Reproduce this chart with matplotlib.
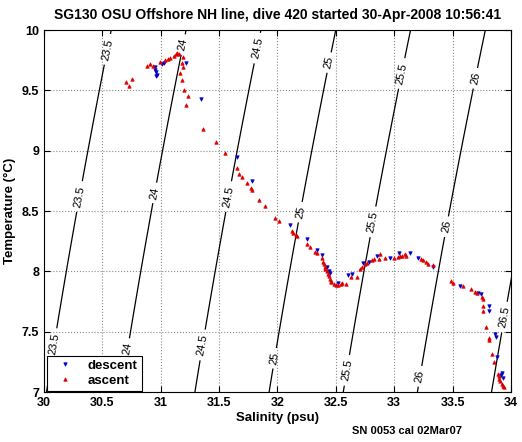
import numpy as np
import matplotlib
matplotlib.use('Agg')
import matplotlib.pyplot as plt
from matplotlib.ticker import FuncFormatter

plt.rcParams['font.family'] = ['Liberation Sans', 'DejaVu Sans']

# Descent samples (salinity, temperature)
desc_s = [30.95, 30.955, 30.96, 30.965, 30.96, 31.01, 31.03, 31.22, 31.345,
          31.65, 31.78, 32.11, 32.255, 32.335, 32.385, 32.42, 32.44, 32.45,
          32.52, 32.60, 32.64, 32.735, 32.785, 32.85, 32.96, 33.04, 33.135,
          33.205, 33.335, 33.56, 33.72, 33.74, 33.81, 33.81, 33.86, 33.87,
          33.88, 33.92, 33.93, 33.915]
desc_t = [9.69, 9.67, 9.65, 9.63, 9.62, 9.72, 9.73, 9.73, 9.43,
          8.945, 8.75, 8.384, 8.266, 8.18, 8.135, 8.04, 8.00, 7.985,
          7.905, 7.97, 7.98, 8.07, 8.08, 8.13, 8.11, 8.15, 8.15,
          8.11, 8.04, 7.88, 7.82, 7.81, 7.71, 7.675, 7.48, 7.455,
          7.29, 7.16, 7.12, 7.14]

# Ascent samples
asc_s = [30.70, 30.73, 30.75, 30.885, 30.91, 30.93, 30.99, 31.04, 31.06, 31.08,
         31.11, 31.13, 31.14, 31.16, 31.19, 31.18, 31.19, 31.165, 31.185, 31.20,
         31.23, 31.22, 31.36, 31.47, 31.55, 31.655, 31.67, 31.70, 31.74, 31.77,
         31.785, 31.845, 31.89, 31.98, 32.015, 32.12, 32.135, 32.16, 32.17, 32.255,
         32.28, 32.32, 32.34, 32.38, 32.39, 32.40, 32.405, 32.41, 32.42, 32.43,
         32.44, 32.45, 32.455, 32.46, 32.48, 32.50, 32.52, 32.54, 32.55, 32.59,
         32.63, 32.68, 32.71, 32.72, 32.75, 32.77, 32.81, 32.83, 32.87, 32.88,
         32.92, 33.00, 33.03, 33.05, 33.07, 33.09, 33.10, 33.23, 33.25, 33.27,
         33.29, 33.33, 33.49, 33.505, 33.59, 33.66, 33.69, 33.71, 33.75, 33.76,
         33.76, 33.76, 33.79, 33.81, 33.81, 33.835, 33.855, 33.89, 33.895, 33.90,
         33.91, 33.92, 33.93, 33.94]
asc_t = [9.567, 9.54, 9.59, 9.70, 9.716, 9.70, 9.737, 9.75, 9.76, 9.77,
         9.785, 9.80, 9.807, 9.80, 9.774, 9.73, 9.69, 9.64, 9.586, 9.50,
         9.45, 9.38, 9.18, 9.075, 8.98, 8.854, 8.81, 8.78, 8.73, 8.69,
         8.67, 8.59, 8.54, 8.445, 8.417, 8.334, 8.315, 8.30, 8.29, 8.23,
         8.205, 8.16, 8.15, 8.11, 8.08, 8.06, 8.04, 8.02, 8.00, 7.98,
         7.96, 7.94, 7.92, 7.91, 7.895, 7.89, 7.89, 7.895, 7.90, 7.895,
         7.95, 7.95, 8.02, 8.04, 8.06, 8.07, 8.094, 8.10, 8.10, 8.14,
         8.11, 8.11, 8.12, 8.13, 8.13, 8.14, 8.125, 8.10, 8.094, 8.075,
         8.06, 8.05, 7.92, 7.90, 7.88, 7.85, 7.83, 7.82, 7.79, 7.77,
         7.71, 7.675, 7.536, 7.45, 7.43, 7.315, 7.25, 7.15, 7.13, 7.11,
         7.09, 7.07, 7.05, 7.04]

# sigma-theta contour levels and the temperatures where they are labelled
levels = [23.5, 24.0, 24.5, 25.0, 25.5, 26.0, 26.5]
label_temps = {23.5: [9.84, 8.62, 7.40],
               24.0: [9.88, 8.65, 7.36],
               24.5: [9.85, 8.62, 7.39],
               25.0: [9.73, 8.49, 7.28],
               25.5: [9.64, 8.41, 7.18],
               26.0: [9.60, 8.37, 7.13],
               26.5: [7.62]}

xticks = [30, 30.5, 31, 31.5, 32, 32.5, 33, 33.5, 34]
yticks = [7, 7.5, 8, 8.5, 9, 9.5, 10]


def sigma0(s, t):
    # UNESCO 1983 density at surface pressure, minus 1000
    rho_w = (999.842594 + 6.793952e-2 * t - 9.095290e-3 * t**2
             + 1.001685e-4 * t**3 - 1.120083e-6 * t**4 + 6.536332e-9 * t**5)
    a = 8.24493e-1 - 4.0899e-3 * t + 7.6438e-5 * t**2 - 8.2467e-7 * t**3 + 5.3875e-9 * t**4
    b = -5.72466e-3 + 1.0227e-4 * t - 1.6546e-6 * t**2
    c = 4.8314e-4
    return rho_w + a * s + b * s**1.5 + c * s**2 - 1000.0


def salt_for(level, t):
    lo, hi = 25.0, 40.0
    for _ in range(60):
        mid = 0.5 * (lo + hi)
        if sigma0(mid, t) < level:
            lo = mid
        else:
            hi = mid
    return 0.5 * (lo + hi)


fig = plt.figure(figsize=(5.22, 4.42), dpi=100)
ax = fig.add_axes([0.0843, 0.1131, 0.8946, 0.8190])

sg, tg = np.meshgrid(np.linspace(29.8, 34.2, 400), np.linspace(6.8, 10.2, 400))
cs = ax.contour(sg, tg, sigma0(sg, tg), levels=levels, colors='k', linewidths=0.9)
positions = [(salt_for(lv, t), t) for lv in levels for t in label_temps[lv]]
ax.clabel(cs, manual=positions, fontsize=8, inline=True, fmt='%g', inline_spacing=3)

ax.plot(desc_s, desc_t, 'v', color='#0000cc', mec='#0000cc', ms=2.5, mew=0.5,
        ls='none', label='descent')
ax.plot(asc_s, asc_t, '^', color='#dd0000', mec='#dd0000', ms=2.5, mew=0.5,
        ls='none', label='ascent')

ax.set_xlim(30, 34)
ax.set_ylim(7, 10)
ax.set_xticks(xticks)
ax.set_yticks(yticks)
fmt = FuncFormatter(lambda v, p: '%g' % v)
ax.xaxis.set_major_formatter(fmt)
ax.yaxis.set_major_formatter(fmt)
ax.tick_params(direction='in', top=True, right=True, length=4, labelsize=9)
for lab in ax.get_xticklabels() + ax.get_yticklabels():
    lab.set_fontweight('bold')
ax.grid(True, ls=':', color='0.55', lw=0.8)

ax.set_title('SG130 OSU Offshore NH line, dive 420 started 30-Apr-2008 10:56:41',
             fontsize=10, fontweight='bold', pad=8)
ax.set_xlabel('Salinity (psu)', fontsize=9.5, fontweight='bold', labelpad=2)
ax.set_ylabel('Temperature (°C)', fontsize=9.5, fontweight='bold', labelpad=4)

leg = ax.legend(loc='lower left', bbox_to_anchor=(0.006, 0.003), borderaxespad=0,
                fancybox=False, framealpha=1, edgecolor='k',
                prop={'weight': 'bold', 'size': 9.5},
                handlelength=2.2, handletextpad=0.6, labelspacing=0.2,
                borderpad=0.3)
leg.get_frame().set_linewidth(0.8)

fig.text(0.674, 0.018, 'SN 0053 cal 02Mar07', fontsize=8, fontweight='bold')

fig.savefig('out.png', dpi=100)
